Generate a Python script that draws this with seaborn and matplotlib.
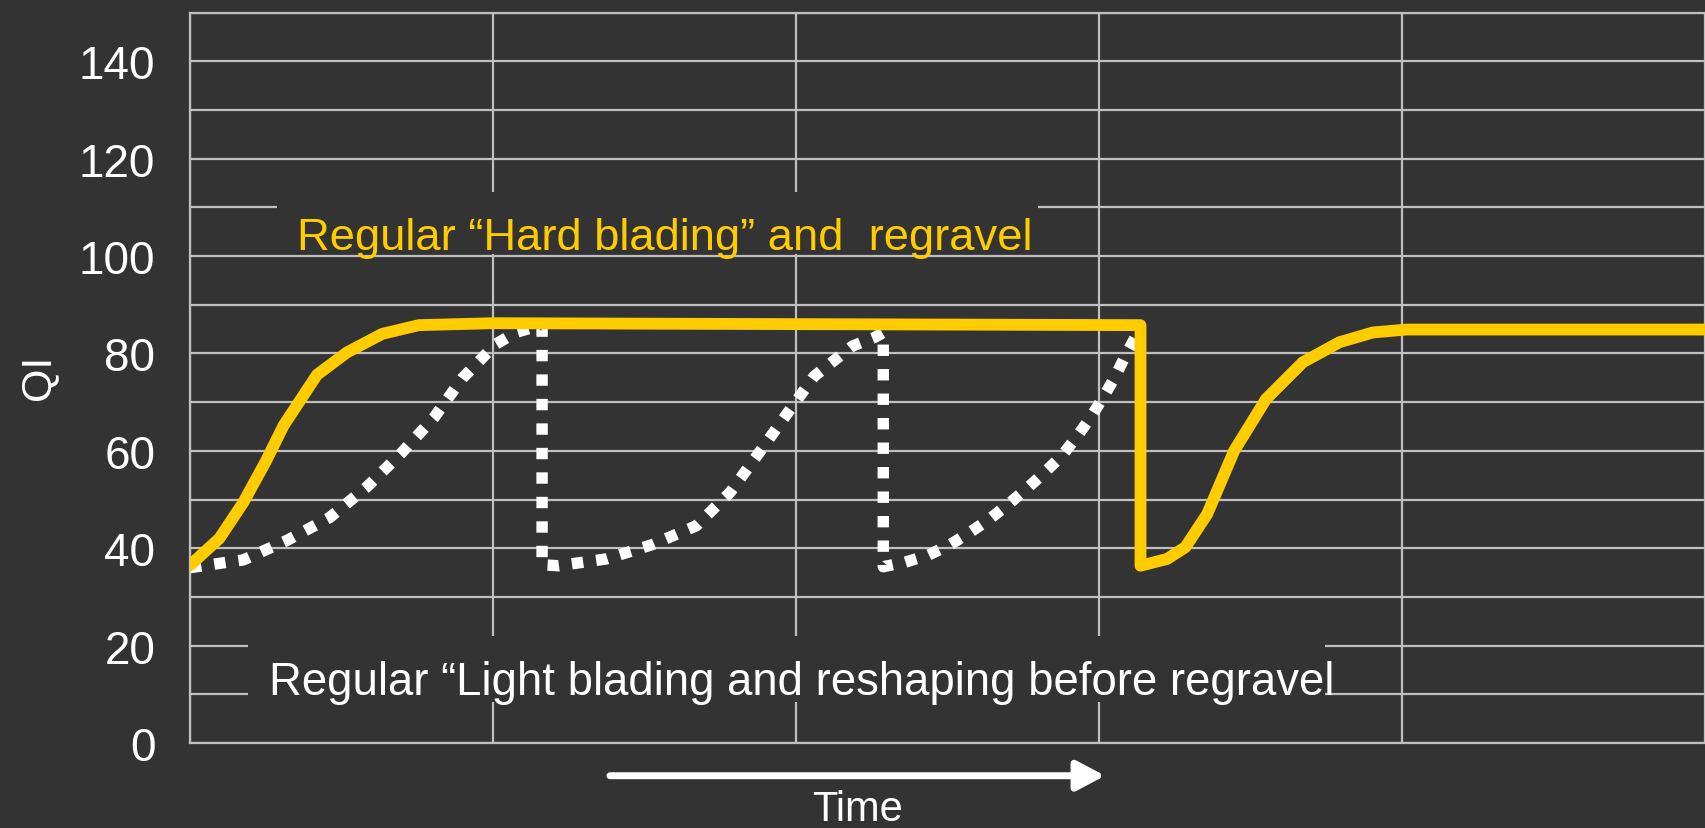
import seaborn as sns
import matplotlib.pyplot as plt
from matplotlib.patches import Rectangle
from matplotlib.ticker import MultipleLocator, NullFormatter

# "Hard blading" and regravel (solid yellow)
hard_time = [0.0, 0.097, 0.176, 0.25, 0.309, 0.419, 0.518, 0.634, 0.755, 1.0,
             3.137, 3.137, 3.225, 3.285, 3.357, 3.446, 3.551, 3.673, 3.794,
             3.904, 4.016, 5.0]
hard_qi = [36.5, 42.0, 49.4, 57.8, 65.2, 75.6, 80.2, 84.0, 85.8, 86.2,
           85.8, 36.4, 37.8, 40.2, 47.0, 60.0, 70.6, 78.2, 82.3,
           84.3, 84.9, 84.9]

# "Light blading" and reshaping before regravel (white dotted)
light_time = [0.0, 0.176, 0.32, 0.461, 0.584, 0.697, 0.805, 0.899, 1.009, 1.075,
              1.147, 1.162, 1.162, 1.216, 1.374, 1.524, 1.671, 1.783, 1.877,
              1.968, 2.06, 2.186, 2.26, 2.288, 2.288, 2.359, 2.437, 2.508,
              2.575, 2.639, 2.702, 2.763, 2.821, 2.879, 2.928, 2.973, 3.016,
              3.054, 3.09, 3.126]
light_qi = [36.0, 37.6, 41.6, 46.3, 52.6, 59.5, 66.8, 74.9, 81.9, 84.3,
            85.6, 85.6, 36.6, 36.4, 37.8, 40.7, 44.6, 51.5, 59.5,
            67.4, 75.3, 81.5, 83.3, 84.3, 36.2, 37.1, 38.6, 40.7,
            43.3, 46.0, 49.1, 52.3, 55.6, 59.1, 63.0, 66.9, 71.2,
            75.3, 79.9, 84.0]

hard_label = "Regular \u201cHard blading\u201d and  regravel"
light_label = "Regular \u201cLight blading and reshaping before regravel"

BG = '#333333'
GRID = '#bfbfbf'
YELLOW = '#ffcc00'

sns.set_style('dark', {'axes.facecolor': BG, 'figure.facecolor': BG})
plt.rcParams['font.family'] = ['Liberation Sans', 'DejaVu Sans']

fig = plt.figure(figsize=(17.05, 8.29), dpi=100)
ax = fig.add_axes([190 / 1705, 85 / 829, 1 - 190 / 1705, 730.5 / 829])

sns.lineplot(x=light_time, y=light_qi, ax=ax, color='white',
             sort=False, estimator=None, zorder=3)
dots = ax.lines[-1]
dots.set_linewidth(8.2)
dots.set_linestyle((0, (1, 1.15)))
dots.set_dash_capstyle('butt')

sns.lineplot(x=hard_time, y=hard_qi, ax=ax, color=YELLOW,
             sort=False, estimator=None, zorder=4)
hard = ax.lines[-1]
hard.set_linewidth(8.5)
hard.set_solid_joinstyle('round')

ax.set_xlim(0, 5)
ax.set_ylim(0, 150)
ax.set_axisbelow(True)

ax.yaxis.set_major_locator(MultipleLocator(20))
ax.yaxis.set_minor_locator(MultipleLocator(10))
ax.xaxis.set_major_locator(MultipleLocator(1))
ax.xaxis.set_major_formatter(NullFormatter())
ax.grid(axis='y', which='both', color=GRID, lw=1.6)
ax.grid(axis='x', which='major', color=GRID, lw=1.6)

ax.tick_params(axis='y', which='both', length=10, width=1.6, color=GRID,
               direction='out', pad=15, labelsize=33, labelcolor='white')
ax.tick_params(axis='x', which='major', length=9.5, width=1.6, color=GRID,
               direction='out', labelbottom=False)

for side in ['left', 'bottom', 'top']:
    ax.spines[side].set_visible(True)
    ax.spines[side].set_color(GRID)
    ax.spines[side].set_linewidth(1.6)
ax.spines['right'].set_visible(False)

# text boxes that hide the gridlines behind the annotations
ax.add_patch(Rectangle((0.288, 100.4), 2.511, 12.7, facecolor=BG,
                       edgecolor='none', zorder=1))
ax.add_patch(Rectangle((0.192, 8.4), 3.553, 13.6, facecolor=BG,
                       edgecolor='none', zorder=1))

ax.text(0.354, 101.4, hard_label, color=YELLOW, fontsize=32.7,
        ha='left', va='baseline', zorder=5)
ax.text(0.26, 10.06, light_label, color='white', fontsize=32.8,
        ha='left', va='baseline', zorder=5)

ax.annotate('', xy=(3.02, -0.0448), xytext=(1.386, -0.0448),
            xycoords=('data', 'axes fraction'), annotation_clip=False,
            arrowprops=dict(arrowstyle='-|>,head_length=0.85,head_width=0.45',
                            mutation_scale=20, lw=5, color='white',
                            shrinkA=0, shrinkB=0))

ax.set_xlabel('Time', fontsize=30, color='white')
ax.xaxis.set_label_coords(2.203 / 5, -0.106)
ax.xaxis.label.set_va('baseline')

ax.set_ylabel('QI', fontsize=31, color='white')
ax.yaxis.set_label_coords(-0.1, 0.502)
ax.yaxis.label.set_va('center')

plt.savefig('out.png', dpi=100, facecolor=BG)
